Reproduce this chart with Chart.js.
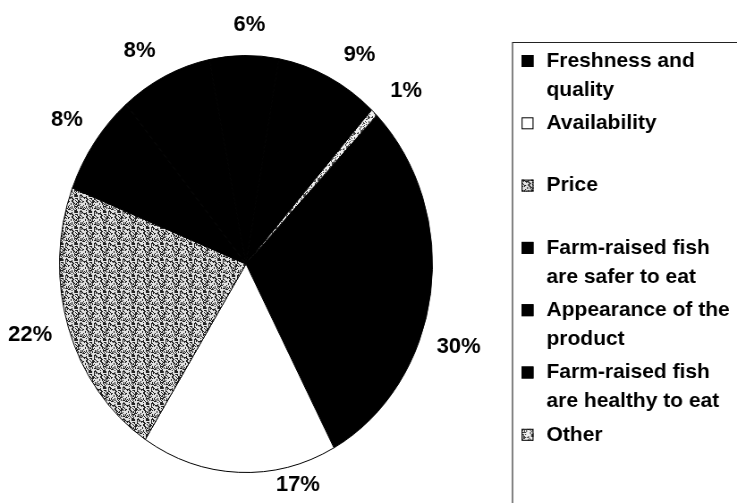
<!DOCTYPE html>
<html>
<head>
<meta charset="utf-8">
<script src="https://cdn.jsdelivr.net/npm/chart.js@4.4.1/dist/chart.umd.min.js"></script>
<style>
  html, body { margin: 0; padding: 0; background: #fff; }
  #myChart { display: block; }
</style>
</head>
<body>
<!-- the scan is squeezed sideways, so the canvas is drawn wider and shown at 737px -->
<canvas id="myChart" width="824" height="503" style="width:737px;height:503px;"></canvas>
<script>
// 1. data
let categories = [
  "Freshness and quality",
  "Availability",
  "Price",
  "Farm-raised fish are safer to eat",
  "Appearance of the product",
  "Farm-raised fish are healthy to eat",
  "",          // 9% slice, its legend entry is not in the picture
  "Other"
];
let percents = [30, 17, 22, 8, 8, 6, 9, 0.6];

// label placement tweaks (degrees / px), some labels in the scan sit off the slice middle
let labelTurn = [11, -17, 1.5, 0, -3.5, 1.5, 5, 2.5];
let labelPull = [0, -15, 0, 0, 0, 0, 0, 3];

const squeeze = 737 / 824;

function speckle(size, darkShare, dark, light, seed) {
  let c = document.createElement("canvas");
  c.width = size; c.height = size;
  let g = c.getContext("2d");
  for (let y = 0; y < size; y++) {
    for (let x = 0; x < size; x++) {
      let h = Math.imul(x + 1, 73856093) ^ Math.imul(y + 1, 19349663) ^ seed;
      h = Math.imul(h ^ (h >>> 13), 0x5bd1e995) >>> 0;
      g.fillStyle = (h % 100) < darkShare ? dark : light;
      g.fillRect(x, y, 1, 1);
    }
  }
  return g.createPattern(c, "repeat");
}

const pricePattern = speckle(16, 38, "#222", "#e2e2e2", 7);
const otherPattern = speckle(16, 30, "#444", "#eeeeee", 3);

let sliceColors = ["#000", "#fff", pricePattern, "#000", "#000", "#000", "#000", otherPattern];

// 2. plugins
const outsideLabels = {
  id: "outsideLabels",
  afterDatasetsDraw(chart, args, o) {
    const c = chart.ctx;
    const arcs = chart.getDatasetMeta(0).data;
    c.save();
    c.font = o.font;
    c.fillStyle = "#000";
    c.textAlign = "center";
    c.textBaseline = "middle";
    arcs.forEach(function (arc, i) {
      const text = Math.round(percents[i]) + "%";
      const a = (arc.startAngle + arc.endAngle) / 2 + labelTurn[i] * Math.PI / 180;
      const halfW = c.measureText(text).width / 2 / squeeze;
      const d = arc.outerRadius + o.gap + Math.abs(Math.cos(a)) * halfW * 0.8 +
                Math.abs(Math.sin(a)) * 8 + labelPull[i];
      const lx = arc.x + d * Math.cos(a);
      const ly = arc.y + d * Math.sin(a);
      c.save();
      c.translate(lx, ly);
      c.scale(1 / squeeze, 1);
      c.fillText(text, 0, 0);
      c.restore();
    });
    c.restore();
  }
};

function wrap(c, text, maxW) {
  let words = text.split(" ");
  let lines = [];
  let line = "";
  words.forEach(function (w) {
    let test = line ? line + " " + w : w;
    if (line && c.measureText(test).width > maxW) {
      lines.push(line);
      line = w;
    } else {
      line = test;
    }
  });
  lines.push(line);
  return lines;
}

const boxLegend = {
  id: "boxLegend",
  afterDraw(chart, args, o) {
    const c = chart.ctx;
    const ds = chart.data.datasets[0];
    c.save();
    c.scale(1 / squeeze, 1); // back to screen pixels
    c.strokeStyle = "#222";
    c.lineWidth = 1;
    c.beginPath();
    c.moveTo(o.x, 600);
    c.lineTo(o.x, o.y);
    c.lineTo(900, o.y);
    c.stroke();

    c.font = o.font;
    c.textBaseline = "middle";
    let n = 0;
    chart.data.labels.forEach(function (label, i) {
      if (!label) return;
      let y = o.firstY + n * o.step;
      c.fillStyle = ds.backgroundColor[i];
      c.fillRect(o.x + 9, y - 6, 12, 12);
      c.strokeStyle = "#000";
      c.strokeRect(o.x + 9.5, y - 5.5, 11, 11);
      c.fillStyle = "#000";
      wrap(c, label, o.maxW).forEach(function (line, j) {
        c.fillText(line, o.x + 34, y + j * o.lineH);
      });
      n++;
    });
    c.restore();
  }
};

// 3. chart
let chart = new Chart(document.getElementById("myChart"), {
  type: "pie",
  data: {
    labels: categories,
    datasets: [{
      data: percents,
      backgroundColor: sliceColors,
      borderColor: "#000",
      borderWidth: 1
    }]
  },
  options: {
    responsive: false,
    devicePixelRatio: 1,
    animation: false,
    rotation: 44.5,
    layout: { padding: { left: 66, right: 340, top: 55, bottom: 30 } },
    plugins: {
      legend: { display: false },
      tooltip: { enabled: false },
      outsideLabels: { font: "bold 22px 'Liberation Sans', Arial, sans-serif", gap: 22 },
      boxLegend: {
        font: "bold 21px 'Liberation Sans', Arial, sans-serif",
        x: 512.5, y: 42.5, firstY: 61, step: 62.3, lineH: 29, maxW: 195
      }
    }
  },
  plugins: [outsideLabels, boxLegend]
});
</script>
</body>
</html>
